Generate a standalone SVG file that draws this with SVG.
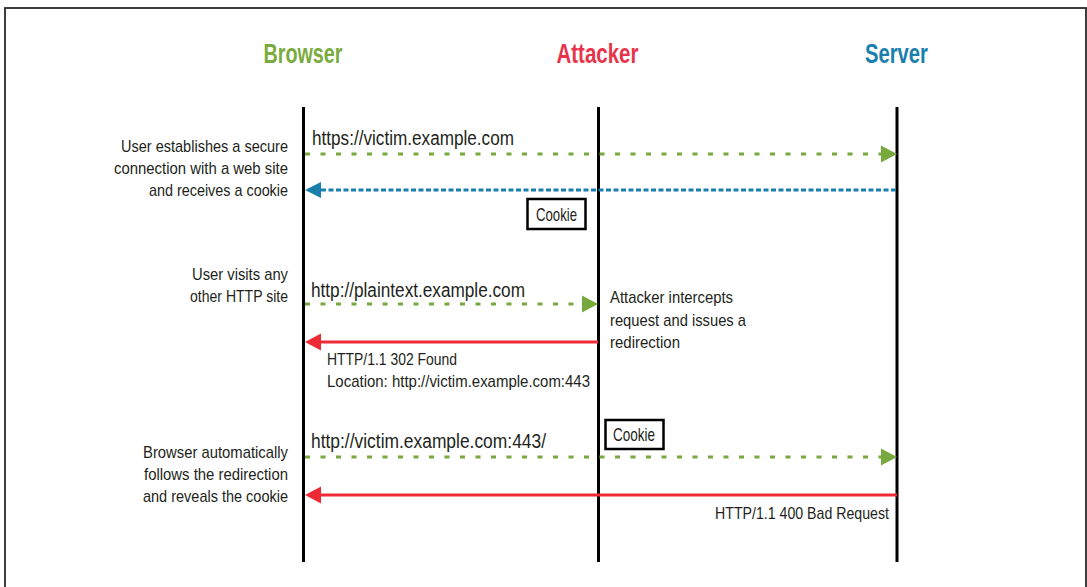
<svg xmlns="http://www.w3.org/2000/svg" width="1087" height="587" viewBox="0 0 1087 587">
<style>
  .t{font-family:"Liberation Sans",Arial,sans-serif;fill:#231f20;}
  .lbl{font-size:17px;}
  .url{font-size:19.5px;}
  .ck{font-size:18.5px;}
  .hd{font-family:"Liberation Sans",Arial,sans-serif;font-size:27px;font-weight:bold;text-anchor:middle;}
  .life{stroke:#000;stroke-width:3;}
  .g{stroke:#78a93e;stroke-width:3;stroke-dasharray:5 10.5;fill:none;}
  .b{stroke:#1a7fad;stroke-width:3;stroke-dasharray:5 2.5;fill:none;}
  .r{stroke:#ee2a36;stroke-width:3;fill:none;}
  .box{fill:#fff;stroke:#000;stroke-width:2.5;}
</style>
<rect x="0" y="0" width="1087" height="587" fill="#fff"/>
<rect x="5" y="8" width="1081" height="620" fill="none" stroke="#2a2a2a" stroke-width="1.8"/>

<g id="browser">
  <text class="hd" x="303" y="63" fill="#7aab3e" textLength="79" lengthAdjust="spacingAndGlyphs">Browser</text>
  <line class="life" x1="303.5" y1="107" x2="303.5" y2="562"/>
</g>
<g id="attacker">
  <text class="hd" x="597.5" y="63" fill="#e8334a" textLength="82" lengthAdjust="spacingAndGlyphs">Attacker</text>
  <line class="life" x1="598.5" y1="107" x2="598.5" y2="562"/>
</g>
<g id="server">
  <text class="hd" x="896.5" y="63" fill="#1a7fad" textLength="63" lengthAdjust="spacingAndGlyphs">Server</text>
  <line class="life" x1="897" y1="107" x2="897" y2="562"/>
</g>

<g id="notes">
  <text class="t lbl" x="121" y="152" textLength="167" lengthAdjust="spacingAndGlyphs">User establishes a secure</text>
  <text class="t lbl" x="114" y="174" textLength="174" lengthAdjust="spacingAndGlyphs">connection with a web site</text>
  <text class="t lbl" x="149" y="196" textLength="139" lengthAdjust="spacingAndGlyphs">and receives a cookie</text>
  <text class="t lbl" x="192" y="280" textLength="96" lengthAdjust="spacingAndGlyphs">User visits any</text>
  <text class="t lbl" x="190" y="302" textLength="98" lengthAdjust="spacingAndGlyphs">other HTTP site</text>
  <text class="t lbl" x="143" y="458" textLength="145" lengthAdjust="spacingAndGlyphs">Browser automatically</text>
  <text class="t lbl" x="144" y="480" textLength="144" lengthAdjust="spacingAndGlyphs">follows the redirection</text>
  <text class="t lbl" x="143" y="502" textLength="145" lengthAdjust="spacingAndGlyphs">and reveals the cookie</text>
  <text class="t lbl" x="610" y="303" textLength="123" lengthAdjust="spacingAndGlyphs">Attacker intercepts</text>
  <text class="t lbl" x="610" y="326" textLength="136" lengthAdjust="spacingAndGlyphs">request and issues a</text>
  <text class="t lbl" x="610" y="348" textLength="70" lengthAdjust="spacingAndGlyphs">redirection</text>
</g>

<g id="cookie1">
  <rect class="box" x="527.5" y="199" width="58" height="30"/>
  <text class="t ck" x="536" y="221" textLength="41" lengthAdjust="spacingAndGlyphs">Cookie</text>
</g>
<g id="cookie2">
  <rect class="box" x="605.5" y="420" width="58" height="29"/>
  <text class="t ck" x="613" y="441" textLength="42" lengthAdjust="spacingAndGlyphs">Cookie</text>
</g>

<g id="connectors">
  <line class="g" x1="305" y1="154" x2="881" y2="154"/>
  <polygon points="881,145.5 897,154 881,162.5" fill="#78a93e"/>
  <text class="t url" x="312" y="145" textLength="202" lengthAdjust="spacingAndGlyphs">https://victim.example.com</text>

  <line class="b" x1="321" y1="190" x2="897" y2="190"/>
  <polygon points="305,190 321,182 321,198" fill="#1a7fad"/>

  <line class="g" x1="305" y1="304" x2="582" y2="304"/>
  <polygon points="582,295.5 598,304 582,312.5" fill="#78a93e"/>
  <text class="t url" x="311" y="297" textLength="214" lengthAdjust="spacingAndGlyphs">http://plaintext.example.com</text>

  <line class="r" x1="321" y1="342" x2="598" y2="342"/>
  <polygon points="305,342 321,333.5 321,350.5" fill="#ee2a36"/>
  <text class="t lbl" x="327" y="365" textLength="130" lengthAdjust="spacingAndGlyphs">HTTP/1.1 302 Found</text>
  <text class="t lbl" x="327" y="387" textLength="263" lengthAdjust="spacingAndGlyphs">Location: http://victim.example.com:443</text>

  <line class="g" x1="305" y1="457" x2="881" y2="457"/>
  <polygon points="881,448.5 897,457 881,465.5" fill="#78a93e"/>
  <text class="t url" x="311" y="448" textLength="235" lengthAdjust="spacingAndGlyphs">http://victim.example.com:443/</text>

  <line class="r" x1="321" y1="495" x2="897" y2="495"/>
  <polygon points="305,495 321,486.5 321,503.5" fill="#ee2a36"/>
  <text class="t lbl" x="715" y="519" textLength="174" lengthAdjust="spacingAndGlyphs">HTTP/1.1 400 Bad Request</text>
</g>
</svg>
